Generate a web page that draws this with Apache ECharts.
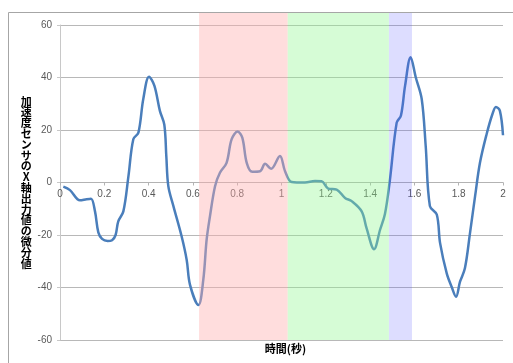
<!DOCTYPE html>
<html>
<head>
<meta charset="utf-8">
<script src="https://cdn.jsdelivr.net/npm/echarts@6/dist/echarts.min.js"></script>
<style>
  html, body { margin: 0; padding: 0; background: #fff; }
  #main { width: 513px; height: 363px; }
</style>
</head>
<body>
<div id="main"></div>
<script>
// time (s) and derivative of accel sensor X output
const times = [0.015, 0.045, 0.09, 0.12, 0.14, 0.158, 0.173, 0.19, 0.215, 0.235, 0.251, 0.263, 0.286,
  0.309, 0.331, 0.354, 0.376, 0.402, 0.426, 0.451, 0.471, 0.48, 0.489, 0.512, 0.549, 0.572, 0.587,
  0.625, 0.647, 0.662, 0.677, 0.7, 0.722, 0.752, 0.775, 0.802, 0.823, 0.843, 0.868, 0.903, 0.926,
  0.953, 0.993, 1.016, 1.046, 1.106, 1.151, 1.181, 1.211, 1.249, 1.287, 1.317, 1.362, 1.384, 1.418,
  1.445, 1.467, 1.488, 1.52, 1.539, 1.558, 1.583, 1.606, 1.633, 1.651, 1.67, 1.701, 1.716, 1.746,
  1.768, 1.788, 1.806, 1.828, 1.851, 1.874, 1.896, 1.926, 1.952, 1.968, 1.986, 2.0];
const values = [-1.6, -2.9, -6.8, -6.4, -6.2, -11, -19, -21.5, -22.3, -22, -20, -14.8, -11,
  2.4, 16.5, 19, 31.8, 40.3, 36.9, 27.3, 22, 10, -1.4, -9, -20.5, -29.5, -39,
  -46.7, -37, -21.8, -12.9, -1.4, 3.7, 7.5, 16.5, 19.4, 17.1, 7.5, 4.1, 4.3, 7.1,
  5.2, 10.1, 4.3, 0.2, 0, 0.6, 0.5, -2.3, -2.7, -5.9, -7.1, -11, -17.4, -25.4,
  -18, -12, 0, 22.8, 25.4, 36.9, 47.7, 40.1, 31.8, 13.9, -9, -12.2, -23.1, -34.6,
  -39.7, -43.5, -37.8, -32.7, -19.3, -5.2, 7.5, 18.4, 26, 28.8, 27.3, 18];

// highlighted phases [start, end]
const phaseRanges = [[0.628, 1.028], [1.028, 1.485], [1.485, 1.589]];
const phaseColors = ['rgba(255,174,174,0.42)', 'rgba(144,247,144,0.37)', 'rgba(85,85,255,0.2)'];

const xTicks = [0, 2, 0.2];     // min, max, interval
const yTicks = [-60, 60, 20];

const yName = '加速度センサのX軸出力値の微分値';
const xName = '時間(秒)';

const chart = echarts.init(document.getElementById('main'));

const labelFont = { color: '#595959', fontSize: 10, fontFamily: 'Liberation Sans' };

chart.setOption({
  animation: false,
  graphic: [{
    type: 'rect',
    shape: { x: 8.5, y: 12.5, width: 700, height: 500 },
    style: { fill: 'none', stroke: '#a6a6a6', lineWidth: 1 },
    silent: true
  }],
  grid: [
    { left: 60, right: 10, top: 25, bottom: 23 },
    { left: 60, right: 10, top: 13, bottom: 23 }
  ],
  xAxis: [{
    type: 'value',
    gridIndex: 0,
    min: xTicks[0], max: xTicks[1], interval: xTicks[2],
    // axis sits on y = 0 (middle of the -60..60 grid)
    offset: -157,
    axisLine: { onZero: true, onZeroAxisIndex: 0, lineStyle: { color: '#b3b3b3', width: 1 } },
    axisTick: { show: true, length: 3, lineStyle: { color: '#b3b3b3' } },
    axisLabel: Object.assign({ margin: 6, formatter: v => String(+v.toFixed(1)) }, labelFont),
    splitLine: { show: false }
  }, {
    type: 'value',
    gridIndex: 1,
    min: xTicks[0], max: xTicks[1],
    axisLine: { show: false, onZero: false }, axisTick: { show: false }, axisLabel: { show: false },
    splitLine: { show: false },
    name: xName,
    nameLocation: 'middle',
    nameGap: 3,
    nameTextStyle: { color: '#000', fontSize: 11, fontWeight: 'bold', fontFamily: 'Noto Sans CJK JP', padding: [0, 0, 0, 8] }
  }],
  yAxis: [{
    type: 'value',
    gridIndex: 0,
    min: yTicks[0], max: yTicks[1], interval: yTicks[2],
    axisLine: { show: true, onZero: false, lineStyle: { color: '#c8c8c8', width: 1 } },
    axisTick: { show: true, length: 3, lineStyle: { color: '#c8c8c8' } },
    axisLabel: Object.assign({ margin: 8 }, labelFont),
    splitLine: { show: true, lineStyle: { color: '#b8b8b8', width: 1 } },
    name: yName.split('').join('\n'),
    nameLocation: 'middle',
    nameRotate: 0,
    nameGap: 30,
    nameTextStyle: { color: '#000', fontSize: 11, fontWeight: 'bold', lineHeight: 10.8, fontFamily: 'Noto Sans CJK JP', align: 'center' }
  }, {
    type: 'value',
    gridIndex: 1,
    min: 0, max: 1,
    axisLine: { onZero: false },
    show: false
  }],
  series: [{
    type: 'line',
    xAxisIndex: 0, yAxisIndex: 0,
    data: times.map((t, i) => [t, values[i]]),
    smooth: 0.35,
    showSymbol: false,
    lineStyle: { color: '#4a7ebb', width: 2.5 },
    z: 2
  }, {
    type: 'line',
    xAxisIndex: 1, yAxisIndex: 1,
    data: [],
    z: 5,
    markArea: {
      silent: true,
      z: 5,
      data: phaseRanges.map((r, i) => [
        { xAxis: r[0], itemStyle: { color: phaseColors[i] } },
        { xAxis: r[1] }
      ])
    }
  }]
});
</script>
</body>
</html>
